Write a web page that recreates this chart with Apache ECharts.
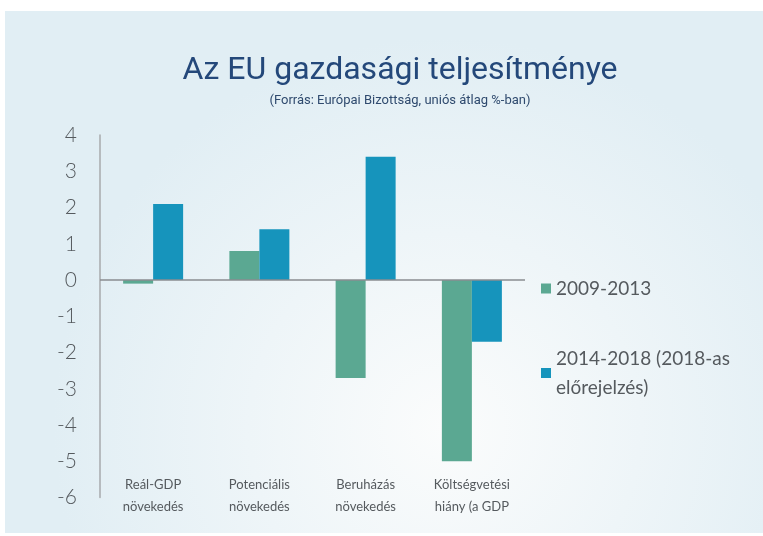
<!DOCTYPE html>
<html>
<head>
<meta charset="utf-8">
<script src="https://cdn.jsdelivr.net/npm/echarts@6/dist/echarts.min.js"></script>
<style>
  html, body { margin: 0; padding: 0; background: #ffffff; }
  #chart { width: 763px; height: 536px; }
</style>
</head>
<body>
<div id="chart"></div>
<script>
// EU economic performance, % (EU average)
const categories = [
  'Reál-GDP\nnövekedés',
  'Potenciális\nnövekedés',
  'Beruházás\nnövekedés',
  'Költségvetési\nhiány (a GDP'
];
const period1 = [-0.1, 0.8, -2.7, -5.0];
const period2 = [2.1, 1.4, 3.4, -1.7];
const seriesNames = ['2009-2013', '2014-2018 (2018-as\nelőrejelzés)'];
const yTicks = { min: -6, max: 4, step: 1 };

const textGrey = '#555a5e';
const green = '#5ba892';
const blue = '#1694bc';

const chart = echarts.init(document.getElementById('chart'));

chart.setOption({
  animation: false,
  graphic: [
    {
      type: 'rect',
      z: -10,
      shape: { x: 5, y: 11, width: 758, height: 522 },
      style: {
        fill: new echarts.graphic.RadialGradient(0.58, 0.8, 0.75, [
          { offset: 0, color: '#fbfcfc' },
          { offset: 1, color: '#e1eef4' }
        ])
      }
    }
  ],
  title: {
    text: 'Az EU gazdasági teljesítménye',
    subtext: '(Forrás: Európai Bizottság, uniós átlag %-ban)',
    left: 395,
    textAlign: 'center',
    top: 50,
    itemGap: 7,
    textStyle: {
      fontFamily: 'Liberation Sans Narrow, Roboto, sans-serif',
      fontSize: 32,
      fontWeight: 'normal',
      color: '#24487a'
    },
    subtextStyle: {
      fontFamily: 'Liberation Sans Narrow, Roboto, sans-serif',
      fontSize: 13,
      color: '#2f4a6e'
    }
  },
  legend: {
    orient: 'vertical',
    left: 536,
    top: 269,
    itemWidth: 10,
    itemHeight: 10,
    itemGap: 41,
    icon: 'rect',
    textStyle: {
      fontFamily: 'Lato, sans-serif',
      fontSize: 19,
      color: textGrey,
      lineHeight: 29
    },
    data: seriesNames
  },
  grid: { left: 100, right: 238, top: 135, bottom: 38.5 },
  xAxis: {
    type: 'category',
    data: categories,
    position: 'bottom',
    axisLine: { show: false },
    axisTick: { show: false },
    axisLabel: {
      interval: 0,
      margin: -24,
      fontFamily: 'Lato, sans-serif',
      fontSize: 13,
      lineHeight: 22,
      color: textGrey
    }
  },
  yAxis: {
    type: 'value',
    min: yTicks.min,
    max: yTicks.max,
    interval: yTicks.step,
    axisLine: { show: true, lineStyle: { color: '#a7aaad', width: 1.5 } },
    axisTick: { show: false },
    splitLine: { show: false },
    axisLabel: {
      margin: 23,
      fontFamily: 'Lato, sans-serif',
      fontSize: 21,
      fontWeight: 300,
      color: textGrey
    }
  },
  series: [
    {
      name: seriesNames[0],
      type: 'bar',
      data: period1,
      barWidth: 30,
      barGap: '0%',
      itemStyle: { color: green },
      markLine: {
        silent: true,
        symbol: 'none',
        label: { show: false },
        lineStyle: { color: '#8a8d90', width: 1.5, type: 'solid' },
        data: [{ yAxis: 0 }]
      }
    },
    {
      name: seriesNames[1],
      type: 'bar',
      data: period2,
      barWidth: 30,
      barGap: '0%',
      itemStyle: { color: blue }
    }
  ]
});
</script>
</body>
</html>
